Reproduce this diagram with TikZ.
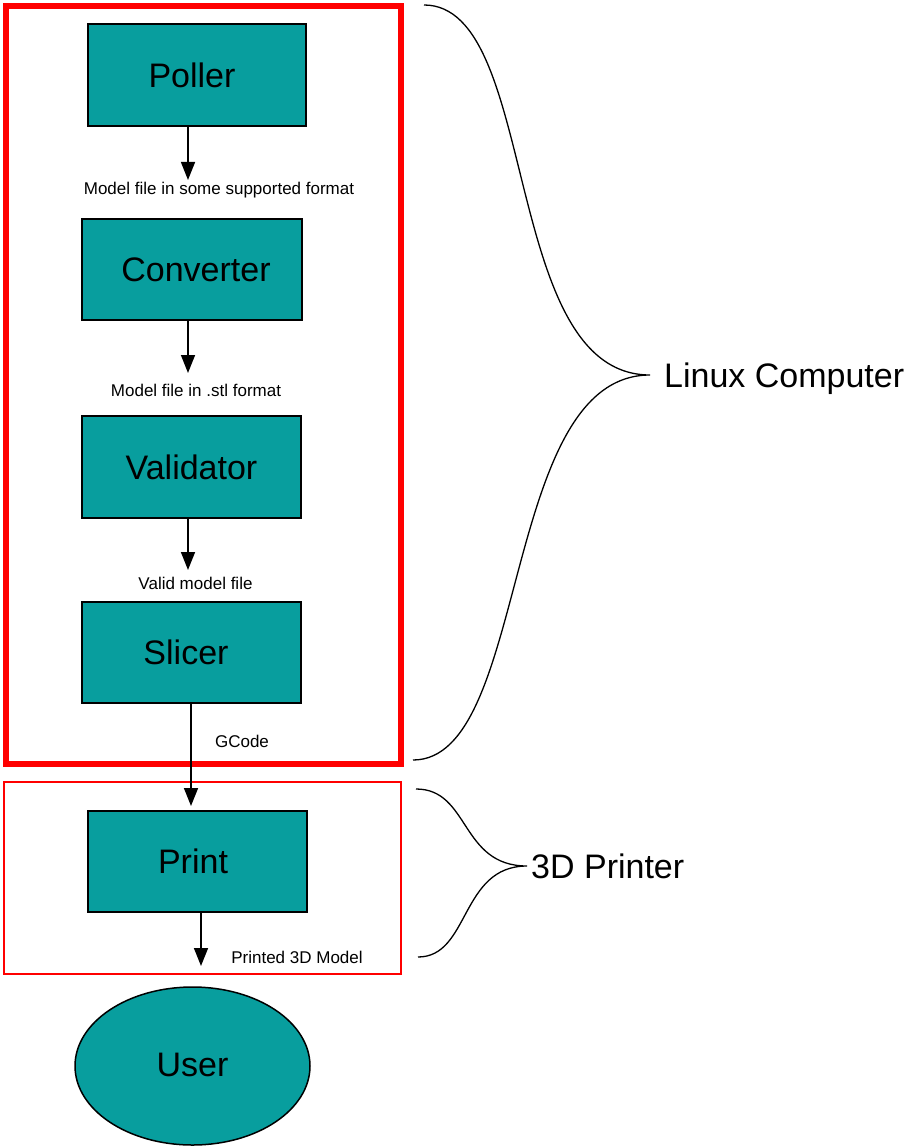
\documentclass[tikz,border=0pt]{standalone}
\usepackage{fontspec}
\setmainfont{Liberation Sans}
\usetikzlibrary{arrows.meta,shapes.geometric}
\definecolor{tealfill}{RGB}{8,158,158}
\definecolor{redline}{RGB}{255,0,0}
\tikzset{
  procbox/.style={draw=black, fill=tealfill, line width=1.5pt, minimum width=219pt, minimum height=101pt, inner sep=0pt, font=\fontsize{34}{40}\selectfont},
  userell/.style={draw=black, fill=tealfill, line width=1.5pt, ellipse, minimum width=235pt, minimum height=158pt, inner sep=0pt, font=\fontsize{34}{40}\selectfont},
  flowarrow/.style={line width=1.5pt, -{Triangle[length=18pt,width=14pt]}},
  smalllabel/.style={anchor=base, inner sep=0pt, font=\fontsize{17}{20}\selectfont},
  biglabel/.style={anchor=base west, inner sep=0pt, font=\fontsize{34}{40}\selectfont},
  bracecurve/.style={line width=1.3pt},
  groupbox/.style={draw=redline}
}
\begin{document}
\begin{tikzpicture}[x=1pt,y=-1pt]
\useasboundingbox (0,0) rectangle (906,1147);
% group boxes
\node[groupbox, line width=6pt, minimum width=395pt, minimum height=758pt, inner sep=0pt] (linuxbox) at (203.5,385) {};
\node[groupbox, line width=2.5pt, minimum width=397pt, minimum height=192pt, inner sep=0pt] (printerbox) at (202.5,878) {};
% process nodes
\node[procbox, minimum width=218pt, minimum height=102pt] (poller) at (197,75) {\hspace*{-10pt}Poller};
\node[procbox, minimum width=220pt] (converter) at (192,269.5) {\hspace*{8pt}Converter};
\node[procbox, minimum height=102pt] (validator) at (191.5,467) {Validator};
\node[procbox] (slicer) at (191.5,652.5) {\hspace*{-11pt}\raisebox{-3pt}{Slicer}};
\node[procbox] (print) at (197.5,861.5) {\hspace*{-9pt}Print};
\node[userell] (user) at (192.5,1066) {\raisebox{3pt}{User}};
% arrow end points
\coordinate (e1) at (188,180);
\coordinate (e2) at (188,373);
\coordinate (e3) at (188,570);
\coordinate (e4) at (191,806);
\coordinate (e5) at (201,966);
\draw[flowarrow] (poller.south -| e1) -- (e1);
\draw[flowarrow] (converter.south -| e2) -- (e2);
\draw[flowarrow] (validator.south -| e3) -- (e3);
\draw[flowarrow] (slicer.south -| e4) -- (e4);
\draw[flowarrow] (print.south -| e5) -- (e5);
% labels
\node[smalllabel] (l1) at (219,195) {Model file in some supported format};
\node[smalllabel] (l2) at (196,396) {Model file in .stl format};
\node[smalllabel] (l3) at (195.5,589) {Valid model file};
\node[smalllabel] (l4) at (242,747) {GCode};
\node[smalllabel] (l5) at (297,963) {Printed 3D Model};
% braces
\coordinate (b1top) at (424,5);
\coordinate (b1tip) at (650,375);
\coordinate (b1bot) at (413,760);
\draw[bracecurve] (b1top) .. controls (540,5) and (500,375) .. (b1tip)
                   .. controls (500,375) and (530,760) .. (b1bot);
\node[biglabel] (linuxlabel) at (664,387) {Linux Computer};
\coordinate (b2top) at (416,789);
\coordinate (b2tip) at (527,866);
\coordinate (b2bot) at (418,957);
\draw[bracecurve] (b2top) .. controls (470,789) and (460,866) .. (b2tip)
                   .. controls (460,866) and (470,957) .. (b2bot);
\node[biglabel] (printerlabel) at (531,878) {3D Printer};
\end{tikzpicture}
\end{document}
